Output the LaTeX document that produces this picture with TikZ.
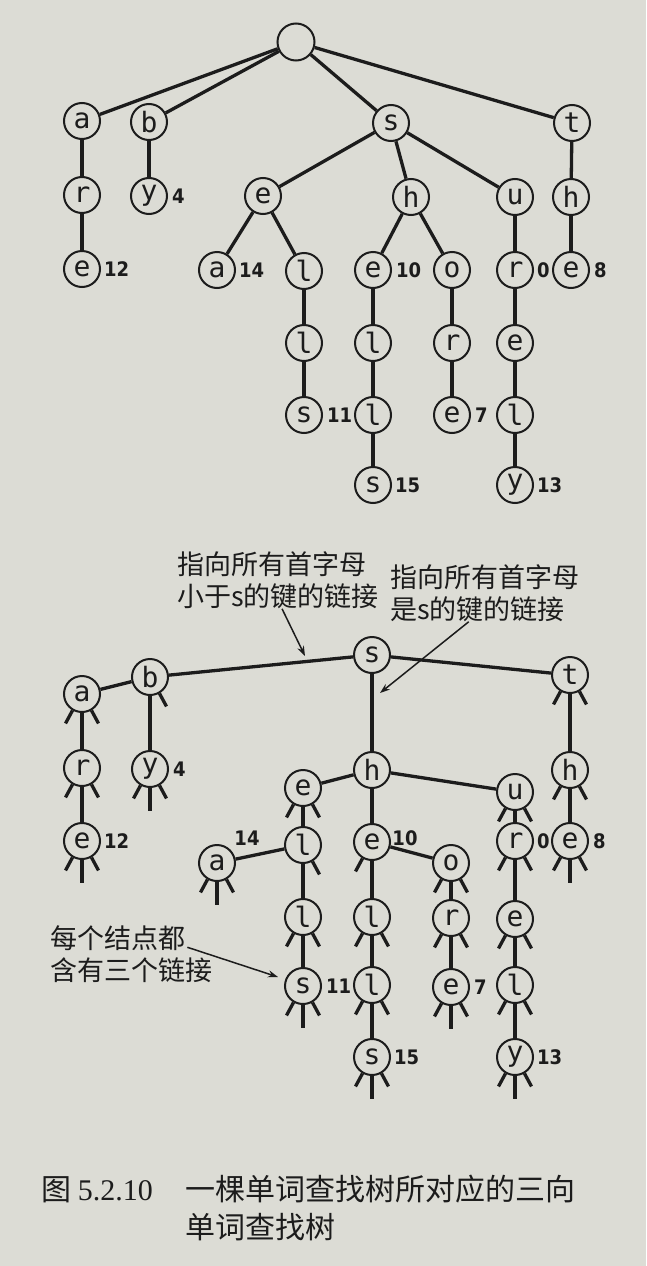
\documentclass[tikz,border=0pt]{standalone}
\usepackage{fontspec}
\usepackage{xcolor}
\definecolor{paperGray}{HTML}{DCDCD5}
\definecolor{inkBlack}{HTML}{1C1C1C}
\newfontfamily\cjk{Noto Sans CJK SC}
\newfontfamily\keyfont{DejaVu Sans Mono}
\newfontfamily\valfont{DejaVu Sans Condensed}
\newfontfamily\capfont{Liberation Serif}
\usetikzlibrary{positioning,arrows.meta}

\begin{document}
\begin{tikzpicture}[x=1pt, y=-1pt,
  key/.style={circle, draw=inkBlack, line width=2pt, minimum size=36pt, inner sep=0pt, text=inkBlack, font=\keyfont\fontsize{28}{28}\selectfont},
  val/.style={inner sep=0pt, text=inkBlack, font=\valfont\bfseries\fontsize{20}{20}\selectfont},
  link/.style={inkBlack, line width=3.3pt},
  note/.style={inner sep=0pt, align=left, text=inkBlack, font=\cjk\fontsize{27}{32}\selectfont},
  pointer/.style={inkBlack, line width=1.5pt, -{Stealth[length=10pt,width=7pt]}}]
  \fill[paperGray] (0,0) rectangle (646,1266);
  \useasboundingbox (0,0) rectangle (646,1266);
  \node[key, minimum size=37pt] (T) at (296,42) {};
  \node[key] (Ta) at (82,121) {a};
  \node[key] (Tb) at (149,122) {b};
  \node[key] (Ts) at (391,123) {s};
  \node[key] (Tt) at (572,123) {t};
  \node[key] (Tar) at (82,195) {r};
  \node[key] (Tby) at (149,196) {y};
  \node[key] (Tse) at (263,196) {e};
  \node[key] (Tsh) at (411,197) {h};
  \node[key] (Tsu) at (515,197) {u};
  \node[key] (Tth) at (571,197) {h};
  \node[key] (Tare) at (82,269) {e};
  \node[key] (Tsea) at (217,270) {a};
  \node[key] (Tsel) at (304,271) {l};
  \node[key] (Tshe) at (373,270) {e};
  \node[key] (Tsho) at (452,270) {o};
  \node[key] (Tsur) at (515,270) {r};
  \node[key] (Tthe) at (571,270) {e};
  \node[key] (Tsell) at (304,343) {l};
  \node[key] (Tshel) at (373,343) {l};
  \node[key] (Tshor) at (452,343) {r};
  \node[key] (Tsure) at (515,343) {e};
  \node[key] (Tsells) at (304,415) {s};
  \node[key] (Tshell) at (373,415) {l};
  \node[key] (Tshore) at (452,415) {e};
  \node[key] (Tsurel) at (515,415) {l};
  \node[key] (Tshells) at (373,485) {s};
  \node[key] (Tsurely) at (515,485) {y};
  \node[val, right=4pt of Tby] (vTby) {4};
  \node[val, right=3pt of Tare] (vTare) {12};
  \node[val, right=3pt of Tsea] (vTsea) {14};
  \node[val, right=4pt of Tshe] (vTshe) {10};
  \node[val, right=3pt of Tsur] (vTsur) {0};
  \node[val, right=4pt of Tthe] (vTthe) {8};
  \node[val, right=4pt of Tsells] (vTsells) {11};
  \node[val, right=4pt of Tshore] (vTshore) {7};
  \node[val, right=3pt of Tshells] (vTshells) {15};
  \node[val, right=3pt of Tsurely] (vTsurely) {13};
  \draw[link] (T) -- (Ta);
  \draw[link] (T) -- (Tb);
  \draw[link] (T) -- (Ts);
  \draw[link] (T) -- (Tt);
  \draw[link] (Ta) -- (Tar);
  \draw[link] (Tar) -- (Tare);
  \draw[link] (Tb) -- (Tby);
  \draw[link] (Ts) -- (Tse);
  \draw[link] (Ts) -- (Tsh);
  \draw[link] (Ts) -- (Tsu);
  \draw[link] (Tt) -- (Tth);
  \draw[link] (Tth) -- (Tthe);
  \draw[link] (Tse) -- (Tsea);
  \draw[link] (Tse) -- (Tsel);
  \draw[link] (Tsel) -- (Tsell);
  \draw[link] (Tsell) -- (Tsells);
  \draw[link] (Tsh) -- (Tshe);
  \draw[link] (Tsh) -- (Tsho);
  \draw[link] (Tshe) -- (Tshel);
  \draw[link] (Tshel) -- (Tshell);
  \draw[link] (Tshell) -- (Tshells);
  \draw[link] (Tsho) -- (Tshor);
  \draw[link] (Tshor) -- (Tshore);
  \draw[link] (Tsu) -- (Tsur);
  \draw[link] (Tsur) -- (Tsure);
  \draw[link] (Tsure) -- (Tsurel);
  \draw[link] (Tsurel) -- (Tsurely);

  \node[note, anchor=west] (note1) at (177,580) {指向所有首字母\\小于s的键的链接};
  \node[note, anchor=west] (note2) at (390,593) {指向所有首字母\\是s的键的链接};
  \node[note, anchor=west] (note3) at (50,954) {每个结点都\\含有三个链接};
  \node[key] (Bs) at (372,655) {s};
  \node[key] (Bb) at (150,677) {b};
  \node[key] (Bt) at (570,675) {t};
  \node[key] (Ba) at (82,694) {a};
  \node[key] (Bar) at (82,768) {r};
  \node[key] (Bby) at (150,769) {y};
  \node[key] (Bsh) at (372,770) {h};
  \node[key] (Bth) at (570,770) {h};
  \node[key] (Bse) at (303,788) {e};
  \node[key] (Bsu) at (515,792) {u};
  \node[key] (Bare) at (82,841) {e};
  \node[key] (Bsel) at (303,845) {l};
  \node[key] (Bshe) at (372,842) {e};
  \node[key] (Bsur) at (515,841) {r};
  \node[key] (Bthe) at (570,841) {e};
  \node[key] (Bsea) at (217,863) {a};
  \node[key] (Bsho) at (451,863) {o};
  \node[key] (Bsell) at (303,917) {l};
  \node[key] (Bshel) at (372,917) {l};
  \node[key] (Bshor) at (451,918) {r};
  \node[key] (Bsure) at (515,919) {e};
  \node[key] (Bsells) at (303,986) {s};
  \node[key] (Bshell) at (372,985) {l};
  \node[key] (Bshore) at (451,987) {e};
  \node[key] (Bsurel) at (515,985) {l};
  \node[key] (Bshells) at (372,1057) {s};
  \node[key] (Bsurely) at (515,1057) {y};
  \node[val, right=4pt of Bby] (vBby) {4};
  \node[val, right=3pt of Bare] (vBare) {12};
  \node[val] (vBsea) at (247,838) {14};
  \node[val] (vBshe) at (405,838) {10};
  \node[val, right=3pt of Bsur] (vBsur) {0};
  \node[val, right=4pt of Bthe] (vBthe) {8};
  \node[val, right=4pt of Bsells] (vBsells) {11};
  \node[val, right=4pt of Bshore] (vBshore) {7};
  \node[val, right=3pt of Bshells] (vBshells) {15};
  \node[val, right=3pt of Bsurely] (vBsurely) {13};
  \draw[link] (Bs) -- (Bb);
  \draw[link] (Bs) -- (Bsh);
  \draw[link] (Bs) -- (Bt);
  \draw[link] (Bb) -- (Ba);
  \draw[link] (Bb) -- (Bby);
  \draw[link] (Ba) -- (Bar);
  \draw[link] (Bar) -- (Bare);
  \draw[link] (Bt) -- (Bth);
  \draw[link] (Bth) -- (Bthe);
  \draw[link] (Bsh) -- (Bse);
  \draw[link] (Bsh) -- (Bshe);
  \draw[link] (Bsh) -- (Bsu);
  \draw[link] (Bse) -- (Bsel);
  \draw[link] (Bsel) -- (Bsea);
  \draw[link] (Bsel) -- (Bsell);
  \draw[link] (Bsell) -- (Bsells);
  \draw[link] (Bshe) -- (Bshel);
  \draw[link] (Bshe) -- (Bsho);
  \draw[link] (Bshel) -- (Bshell);
  \draw[link] (Bshell) -- (Bshells);
  \draw[link] (Bsho) -- (Bshor);
  \draw[link] (Bshor) -- (Bshore);
  \draw[link] (Bsu) -- (Bsur);
  \draw[link] (Bsur) -- (Bsure);
  \draw[link] (Bsure) -- (Bsurel);
  \draw[link] (Bsurel) -- (Bsurely);
  \foreach \n in {Ba,Bar,Bare,Bby,Bt,Bth,Bthe,Bse,Bsea,Bsell,Bsells,Bshe,Bshel,Bshell,Bshells,Bsho,Bshor,Bshore,Bsu,Bsur,Bsure,Bsurel,Bsurely}
    \draw[link] (\n.240) -- ++(-7,13);
  \foreach \n in {Ba,Bar,Bare,Bb,Bby,Bt,Bth,Bthe,Bse,Bsel,Bsea,Bsell,Bsells,Bshel,Bshell,Bshells,Bsho,Bshor,Bshore,Bsu,Bsur,Bsure,Bsurel,Bsurely}
    \draw[link] (\n.300) -- ++(7,13);
  \foreach \n in {Bare,Bby,Bthe,Bsea,Bsells,Bshells,Bshore,Bsurely}
    \draw[link] (\n.south) -- ++(0,23);
  \coordinate (bsTip) at (305,656);
  \coordinate (shTip) at (380,693);
  \coordinate (sTip) at (278,977);
  \draw[pointer] ([xshift=4pt]note1.south) -- (bsTip);
  \draw[pointer] ([xshift=-16pt]note2.south) -- (shTip);
  \draw[pointer] ([shift={(-25,22)}]note3.north east) -- (sTip);

  \node[anchor=west, inner sep=0pt, text=inkBlack, font=\fontsize{30}{30}\selectfont] (figNo) at (41,1190) {\cjk 图\ \capfont 5.2.10};
  \node[anchor=west, inner sep=0pt, align=left, text=inkBlack, font=\cjk\fontsize{30}{38}\selectfont] (figText) at (185,1208) {一棵单词查找树所对应的三向\\单词查找树};
\end{tikzpicture}
\end{document}
